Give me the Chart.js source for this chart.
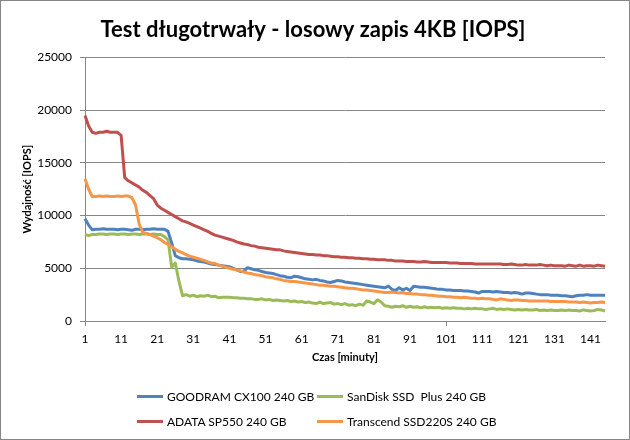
<!DOCTYPE html>
<html>
<head>
<meta charset="utf-8">
<script src="https://cdn.jsdelivr.net/npm/chart.js@4"></script>
<style>
    body { margin: 0; background: #fff; }
    #wrap { position: absolute; left: 0; top: 0; width: 628px; height: 438px; border: 1px solid #868686; }
    #legend { position: absolute; left: 136px; top: 383px; display: grid; grid-template-rows: 25px 25px;
        grid-template-columns: 180px 180px; grid-auto-flow: column; font-family: Lato, sans-serif; font-size: 12px; color: #000; }
    .item { display: flex; align-items: center; }
    .swatch { width: 26px; height: 3px; margin-right: 4px; }
</style>
</head>
<body>
<div id="wrap">
    <canvas id="testChart" width="628" height="438"></canvas>
    <div id="legend"></div>
</div>
<script>
// czas testu w minutach
const minutes = Array.from({ length: 145 }, (_, i) => String(i + 1));

// GOODRAM CX100 240 GB
const goodram = [
    9700, 9100, 8650, 8700, 8700, 8750, 8700, 8700, 8700, 8650,
    8700, 8700, 8650, 8600, 8700, 8700, 8650, 8700, 8700, 8750,
    8700, 8700, 8700, 8500, 7400, 6200, 6000, 5900, 5900, 5850,
    5800, 5700, 5650, 5600, 5500, 5400, 5350, 5300, 5250, 5200,
    5150, 5000, 4850, 4700, 4750, 5050, 4950, 4850, 4800, 4700,
    4600, 4550, 4500, 4400, 4300, 4250, 4150, 4100, 4250, 4200,
    4100, 4000, 3950, 3900, 3950, 3850, 3800, 3700, 3650, 3750,
    3850, 3800, 3700, 3650, 3600, 3550, 3500, 3450, 3400, 3350,
    3300, 3250, 3200, 3150, 3300, 3000, 2900, 3150, 2950, 3100,
    2900, 3300, 3250, 3200, 3200, 3150, 3100, 3050, 3000, 3000,
    2950, 2950, 2900, 2900, 2900, 2850, 2850, 2800, 2750, 2650,
    2800, 2800, 2800, 2750, 2800, 2750, 2700, 2700, 2650, 2700,
    2650, 2550, 2650, 2650, 2600, 2550, 2500, 2500, 2500, 2450,
    2450, 2450, 2400, 2400, 2350, 2300, 2400, 2450, 2450, 2500,
    2450, 2450, 2450, 2450, 2450
];

// ADATA SP550 240 GB
const adata = [
    19500, 18500, 17900, 17800, 17900, 17900, 18000, 17900, 17900, 17900,
    17600, 13600, 13300, 13100, 12900, 12700, 12400, 12200, 11900, 11600,
    11000, 10700, 10500, 10300, 10100, 9900, 9700, 9500, 9400, 9250,
    9100, 8950, 8800, 8650, 8500, 8300, 8150, 8050, 7950, 7850,
    7750, 7650, 7500, 7400, 7300, 7250, 7150, 7100, 7000, 6950,
    6900, 6850, 6800, 6750, 6750, 6650, 6600, 6550, 6500, 6450,
    6400, 6350, 6300, 6300, 6250, 6250, 6200, 6200, 6150, 6100,
    6100, 6050, 6050, 6000, 6000, 5950, 5950, 5900, 5900, 5850,
    5850, 5800, 5800, 5800, 5750, 5750, 5700, 5700, 5700, 5650,
    5650, 5650, 5600, 5600, 5650, 5600, 5550, 5550, 5550, 5550,
    5550, 5500, 5500, 5500, 5450, 5450, 5450, 5450, 5400, 5400,
    5400, 5400, 5400, 5400, 5400, 5400, 5350, 5350, 5400, 5350,
    5300, 5300, 5350, 5300, 5300, 5300, 5350, 5300, 5250, 5300,
    5250, 5250, 5250, 5200, 5300, 5250, 5200, 5300, 5200, 5250,
    5250, 5200, 5300, 5250, 5200
];

// SanDisk SSD Plus 240 GB
const sandisk = [
    8200, 8100, 8200, 8200, 8250, 8250, 8200, 8250, 8250, 8200,
    8250, 8250, 8200, 8250, 8250, 8200, 8250, 8250, 8200, 8250,
    8200, 8200, 8000, 7700, 5100, 5500, 3800, 2400, 2500, 2350,
    2450, 2300, 2400, 2350, 2450, 2300, 2350, 2200, 2250, 2250,
    2250, 2200, 2200, 2150, 2150, 2100, 2100, 2050, 2050, 2100,
    2000, 2050, 1950, 2000, 1950, 1900, 1950, 1850, 1900, 1800,
    1850, 1750, 1800, 1700, 1650, 1800, 1650, 1700, 1750, 1600,
    1650, 1550, 1650, 1500, 1550, 1450, 1600, 1500, 1900, 1800,
    1650, 2000, 1800, 1450, 1400, 1300, 1400, 1350, 1450, 1300,
    1400, 1300, 1350, 1250, 1350, 1250, 1300, 1250, 1300, 1200,
    1250, 1200, 1250, 1200, 1200, 1150, 1200, 1150, 1200, 1150,
    1150, 1100, 1150, 1200, 1100, 1150, 1100, 1150, 1100, 1050,
    1100, 1050, 1100, 1050, 1050, 1100, 1000, 1050, 1000, 1050,
    1000, 1000, 1050, 1000, 1050, 1000, 1000, 950, 1050, 1000,
    950, 1000, 1100, 1050, 950
];

// Transcend SSD220S 240 GB
const transcend = [
    13500, 12500, 11800, 11800, 11850, 11800, 11850, 11800, 11800, 11850,
    11800, 11850, 11850, 11700, 11000, 9200, 8400, 8300, 8200, 8050,
    7900, 7700, 7450, 7250, 7050, 6800, 6600, 6450, 6300, 6150,
    6050, 5950, 5850, 5750, 5600, 5500, 5450, 5300, 5200, 5100,
    5000, 4900, 4850, 4750, 4650, 4550, 4500, 4400, 4350, 4300,
    4200, 4150, 4100, 4000, 3950, 3850, 3800, 3750, 3750, 3700,
    3650, 3600, 3550, 3500, 3450, 3400, 3400, 3350, 3300, 3300,
    3250, 3200, 3150, 3100, 3100, 3050, 3000, 2950, 2950, 2900,
    2850, 2800, 2750, 2700, 2700, 2750, 2700, 2650, 2700, 2600,
    2600, 2550, 2550, 2500, 2500, 2450, 2450, 2400, 2350, 2350,
    2300, 2300, 2250, 2250, 2200, 2250, 2200, 2150, 2150, 2100,
    2150, 2100, 2100, 2050, 2000, 2100, 2050, 2000, 1950, 2000,
    2000, 1950, 1950, 1900, 1900, 1900, 1900, 1900, 1900, 1850,
    1850, 1850, 1850, 1850, 1800, 1800, 1800, 1750, 1800, 1750,
    1700, 1750, 1750, 1800, 1750
];

const seriesNames = ['GOODRAM CX100 240 GB', 'ADATA SP550 240 GB', 'SanDisk SSD  Plus 240 GB', 'Transcend SSD220S 240 GB'];
const seriesColors = ['#4f81bd', '#c0504d', '#9bbb59', '#f79646'];
const seriesData = [goodram, adata, sandisk, transcend];

const axisGray = '#868686';
const fontName = 'Lato, sans-serif';

const datasets = seriesData.map((data, i) => ({
    label: seriesNames[i],
    data: data,
    borderColor: seriesColors[i],
    backgroundColor: seriesColors[i],
    borderWidth: 3,
    pointRadius: 0,
    tension: 0,
    borderJoinStyle: 'round',
    order: seriesData.length - i,
}));

// legenda jako html, dwie kolumny
const legend = document.getElementById('legend');
datasets.forEach(ds => {
    legend.innerHTML += `
        <div class="item"><span class="swatch" style="background:${ds.borderColor}"></span>${ds.label.replace(/  /g, '&nbsp; ')}</div>
    `;
});

const ctx = document.getElementById('testChart').getContext('2d');
const testChart = new Chart(ctx, {
    type: 'line',
    data: { labels: minutes, datasets: datasets },
    options: {
        responsive: false,
        animation: false,
        layout: { padding: { left: 20, right: 24, top: 0, bottom: 75 } },
        plugins: {
            legend: { display: false },
            tooltip: { enabled: false },
            title: {
                display: true,
                text: 'Test długotrwały - losowy zapis 4KB [IOPS]',
                color: '#000',
                font: { family: fontName, size: 22, weight: 'bold', lineHeight: 1.2 },
                padding: { top: 16, bottom: 14 },
            },
        },
        scales: {
            x: {
                offset: false,
                afterFit: scale => { scale.height = 43; },
                border: { display: true, color: axisGray, width: 1 },
                grid: {
                    drawOnChartArea: false,
                    drawTicks: true,
                    tickLength: 5,
                    tickColor: c => (c.index % 10 === 0 ? axisGray : 'rgba(0,0,0,0)'),
                },
                ticks: {
                    autoSkip: false,
                    maxRotation: 0,
                    padding: 6,
                    color: '#000',
                    font: { family: fontName, size: 12 },
                    callback: (value, index) => (index % 10 === 0 ? minutes[index] : null),
                },
                title: {
                    display: true,
                    text: 'Czas [minuty]',
                    color: '#000',
                    font: { family: fontName, size: 11, weight: 'bold', lineHeight: 1.2 },
                    padding: { top: 0, bottom: 0 },
                },
            },
            y: {
                min: 0,
                max: 25000,
                afterFit: scale => { scale.width = 64; },
                border: { display: true, color: axisGray, width: 1 },
                grid: { color: axisGray, tickColor: axisGray, tickLength: 5 },
                ticks: {
                    stepSize: 5000,
                    padding: 8,
                    color: '#000',
                    font: { family: fontName, size: 12 },
                    callback: value => String(value),
                },
                title: {
                    display: true,
                    text: 'Wydajność [IOPS]',
                    color: '#000',
                    font: { family: fontName, size: 11, weight: 'bold', lineHeight: 1.2 },
                    padding: { top: 0, bottom: 0 },
                },
            },
        },
    },
});
</script>
</body>
</html>
